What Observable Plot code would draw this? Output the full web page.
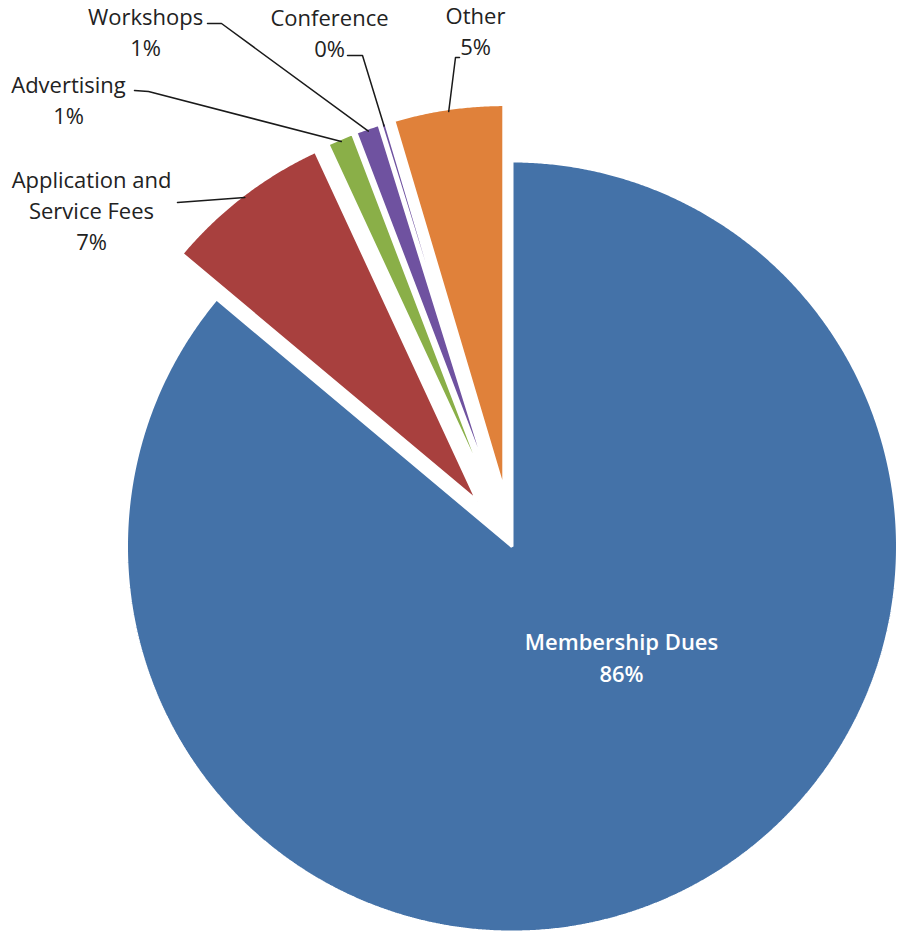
<!DOCTYPE html>
<html>
<head>
<meta charset="utf-8">
<script src="https://cdn.jsdelivr.net/npm/d3@7"></script>
<script src="https://cdn.jsdelivr.net/npm/@observablehq/plot@0.6"></script>
<style>
  html, body { margin: 0; padding: 0; background: #fff; }
  #chart svg { display: block; }
</style>
</head>
<body>
<div id="chart"></div>
<script>
// ---- data ----
const categories = ["Membership Dues", "Application and Service Fees", "Advertising", "Workshops", "Conference", "Other"];
const values = [86.1, 7.0, 1.1, 1.0, 0.2, 4.6];
const labelNames = ["Membership Dues", "Application and\nService Fees", "Advertising", "Workshops", "Conference", "Other"];
const exploded = [false, true, true, true, true, true];

// ---- styles / layout ----
const colors = ["#4472A8", "#A8403E", "#8AAF48", "#6F52A0", "#6F52A0", "#E0813A"];
const W = 900, H = 933;
const cx = 511.5, cy = 546, R = 385.5, explode = 57;
const labelLayout = {
  "Membership Dues": {x: 621, y: 655, dark: false, leader: null},
  "Application and Service Fees": {x: 91, y: 209, dark: true, leader: [[177, 202]]},
  "Advertising": {x: 68, y: 98, dark: true, leader: [[134, 90], [148, 91]]},
  "Workshops": {x: 145, y: 30, dark: true, leader: [[207, 23], [221, 23]]},
  "Conference": {x: 329, y: 31, dark: true, leader: [[347, 55], [362, 55]]},
  "Other": {x: 475, y: 29, dark: true, leader: [[459, 57], [455, 57]]}
};

const arcs = d3.pie().sort(null).value(d => d)(values);

// slice polygons
const slicePts = [];
arcs.forEach((a, i) => {
  const mid = (a.startAngle + a.endAngle) / 2;
  const off = exploded[i] ? explode : 0;
  const ox = cx + off * Math.sin(mid), oy = cy - off * Math.cos(mid);
  slicePts.push({cat: categories[i], x: ox, y: oy});
  const n = Math.max(2, Math.ceil((a.endAngle - a.startAngle) / 0.005));
  for (let k = 0; k <= n; k++) {
    const t = a.startAngle + (a.endAngle - a.startAngle) * k / n;
    slicePts.push({cat: categories[i], x: ox + R * Math.sin(t), y: oy - R * Math.cos(t)});
  }
});

// leader lines
const leaderPts = [];
arcs.forEach((a, i) => {
  const L = labelLayout[categories[i]];
  if (!L.leader) return;
  const mid = (a.startAngle + a.endAngle) / 2;
  const off = exploded[i] ? explode : 0;
  const ox = cx + off * Math.sin(mid), oy = cy - off * Math.cos(mid);
  L.leader.forEach(p => leaderPts.push({cat: categories[i], x: p[0], y: p[1]}));
  leaderPts.push({cat: categories[i], x: ox + (R - 3) * Math.sin(mid), y: oy - (R - 3) * Math.cos(mid)});
});

// labels
const labels = categories.map((c, i) => ({
  cat: c,
  text: labelNames[i] + "\n" + Math.round(values[i]) + "%",
  x: labelLayout[c].x, y: labelLayout[c].y,
  dark: labelLayout[c].dark
}));

const chart = Plot.plot({
  width: W, height: H,
  margin: 0,
  x: {domain: [0, W], range: [0, W], axis: null},
  y: {domain: [0, H], range: [0, H], axis: null},
  color: {domain: categories, range: colors},
  style: {background: "white"},
  marks: [
    Plot.line(slicePts, {x: "x", y: "y", z: "cat", fill: "cat", stroke: "white", strokeWidth: 3, strokeLinejoin: "miter", curve: "linear-closed"}),
    Plot.line(leaderPts, {x: "x", y: "y", z: "cat", stroke: "#1a1a1a", strokeWidth: 1.5}),
    Plot.text(labels.filter(d => d.dark), {x: "x", y: "y", text: "text", fill: "#222", fontSize: 22, fontFamily: "Open Sans", lineHeight: 1.41, textAnchor: "middle"}),
    Plot.text(labels.filter(d => !d.dark), {x: "x", y: "y", text: "text", fill: "white", fontSize: 22, fontWeight: 600, fontFamily: "Open Sans", lineHeight: 1.45, textAnchor: "middle"})
  ]
});
document.getElementById("chart").appendChild(chart);
</script>
</body>
</html>
